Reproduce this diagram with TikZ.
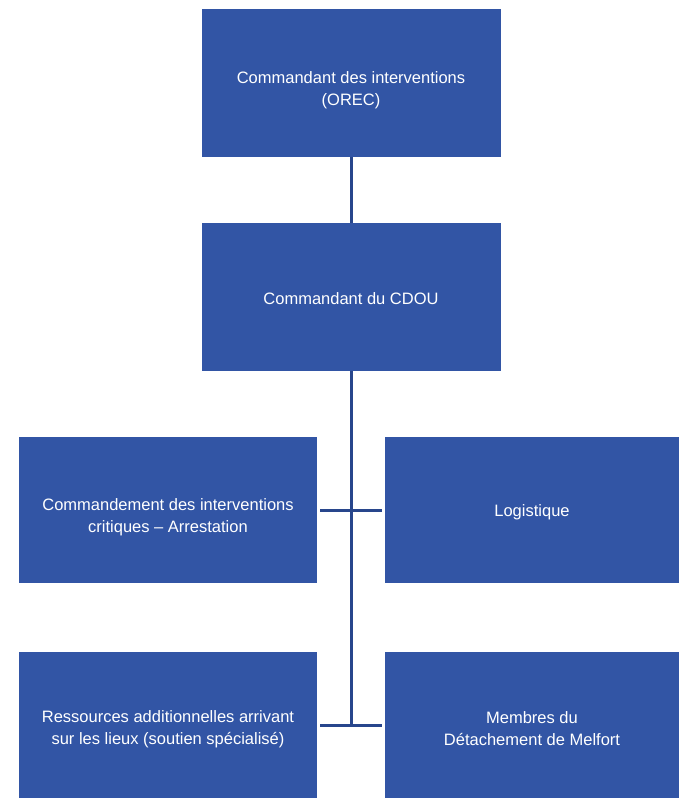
\documentclass[tikz,border=0pt]{standalone}
\usepackage{fontspec}
\setmainfont{Liberation Sans}
\definecolor{boxblue}{RGB}{50,85,165}
\definecolor{linkblue}{RGB}{40,70,140}
\begin{document}
\begin{tikzpicture}[x=1pt,y=-1pt,
  orgbox/.style={fill=boxblue, draw=none, inner sep=0pt},
  boxtext/.style={text=white, align=center,
    font=\fontsize{16.5}{22}\selectfont, inner sep=0pt},
  wide/.style={minimum width=299pt, minimum height=148pt},
  side/.style={minimum width=298pt, minimum height=146pt},
  link/.style={draw=linkblue, line width=3pt}]
\useasboundingbox (0,0) rectangle (679,800);
\fill[white] (0,0) rectangle (679,800);

% boxes
\node[orgbox, wide] (top) at (351,83) {};
\node[orgbox, wide] (cdou) at (351,297) {};
\node[orgbox, side] (crit) at (168,510) {};
\node[orgbox, side, minimum width=294pt] (logi) at (532,510) {};
\node[orgbox, side] (ress) at (168,725) {};
\node[orgbox, side, minimum width=294pt] (melf) at (532,725) {};

% box captions, set a little below the box centres
\node[boxtext] (topT) at ([yshift=-7pt]top.center) {Commandant des interventions\\(OREC)};
\node[boxtext] (cdouT) at ([yshift=-2pt]cdou.center) {Commandant du CDOU};
\node[boxtext] (critT) at ([yshift=-7pt]crit.center) {Commandement des interventions\\critiques – Arrestation};
\node[boxtext] (logiT) at ([yshift=-2pt]logi.center) {Logistique};
\node[boxtext] (ressT) at ([yshift=-4pt]ress.center) {Ressources additionnelles arrivant\\sur les lieux (soutien spécialisé)};
\node[boxtext] (melfT) at ([yshift=-4pt]melf.center) {Membres du\\Détachement de Melfort};

% connectors
\coordinate (trunkend) at (cdou.south |- ress.east);
\draw[link] (top.south) -- (cdou.north);
\draw[link] (cdou.south) -- (trunkend);
\draw[link] ([xshift=3pt]crit.east) -- ([xshift=-3pt]logi.west);
\draw[link] ([xshift=3pt]ress.east) -- ([xshift=-3pt]melf.west);
\end{tikzpicture}
\end{document}
